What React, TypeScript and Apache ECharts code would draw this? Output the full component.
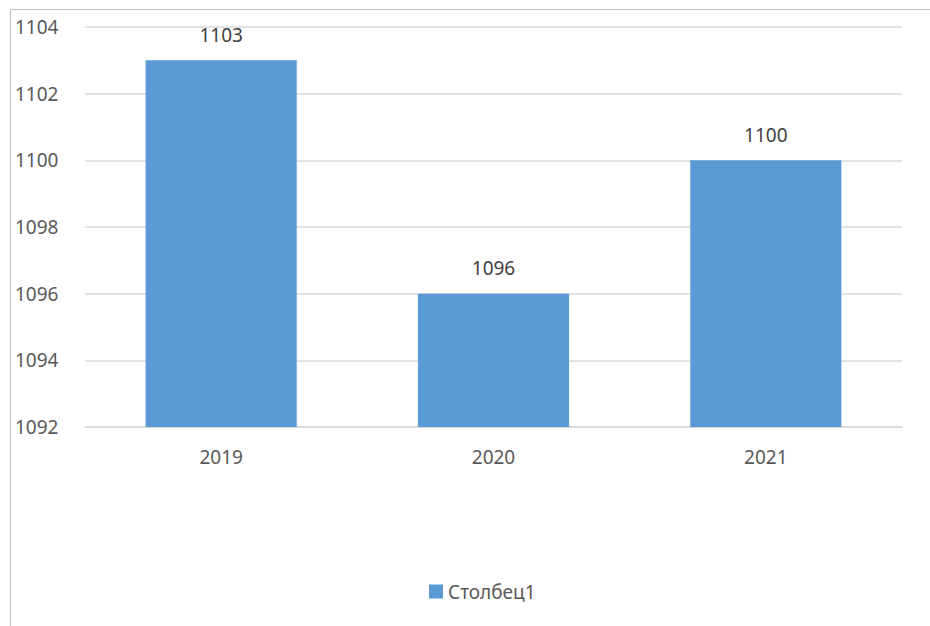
import React, { useEffect, useRef } from "react";
import * as echarts from "echarts";

const categories = ["2019", "2020", "2021"];
const values = [1103, 1096, 1100];
const seriesName = "Столбец1";

export default function App() {
  const ref = useRef<HTMLDivElement>(null);
  useEffect(() => {
    if (!ref.current) return;
    const chart = echarts.init(ref.current, null, { renderer: "svg" });
    const font = "'Noto Sans', sans-serif";
    chart.setOption({
      animation: false,
      backgroundColor: "#ffffff",
      graphic: [
        {
          type: "rect",
          shape: { x: 10.5, y: 9.5, width: 960, height: 700 },
          style: { fill: "none", stroke: "#c0c0c0", lineWidth: 1 },
          silent: true,
        },
      ],
      grid: { left: 85, right: 28, top: 27, bottom: 199, containLabel: false },
      legend: {
        bottom: 20,
        left: 424,
        itemWidth: 14,
        itemHeight: 14,
        icon: "rect",
        itemGap: 6,
        textStyle: { fontFamily: font, fontSize: 19, color: "#595959" },
        data: [seriesName],
      },
      xAxis: {
        type: "category",
        data: categories,
        axisLine: { show: true, lineStyle: { color: "#d9d9d9", width: 1.5 } },
        axisTick: { show: false },
        axisLabel: { fontFamily: font, fontSize: 19, color: "#595959", margin: 20 },
      },
      yAxis: {
        type: "value",
        min: 1092,
        max: 1104,
        interval: 2,
        axisLine: { show: false },
        axisTick: { show: false },
        splitLine: { lineStyle: { color: "#d9d9d9", width: 1.5 } },
        axisLabel: {
          fontFamily: font,
          fontSize: 19,
          color: "#595959",
          align: "left",
          margin: 70,
          formatter: (v: number) => String(v),
        },
      },
      series: [
        {
          name: seriesName,
          type: "bar",
          data: values,
          barWidth: "55.5%",
          itemStyle: { color: "#5b9bd5" },
          label: {
            show: true,
            position: "top",
            distance: 16,
            fontFamily: font,
            fontSize: 19,
            color: "#404040",
          },
        },
      ],
    });
    return () => chart.dispose();
  }, []);
  return (
    <div
      ref={ref}
      style={{ position: "fixed", left: 0, top: 0, width: 930, height: 626 }}
    />
  );
}
